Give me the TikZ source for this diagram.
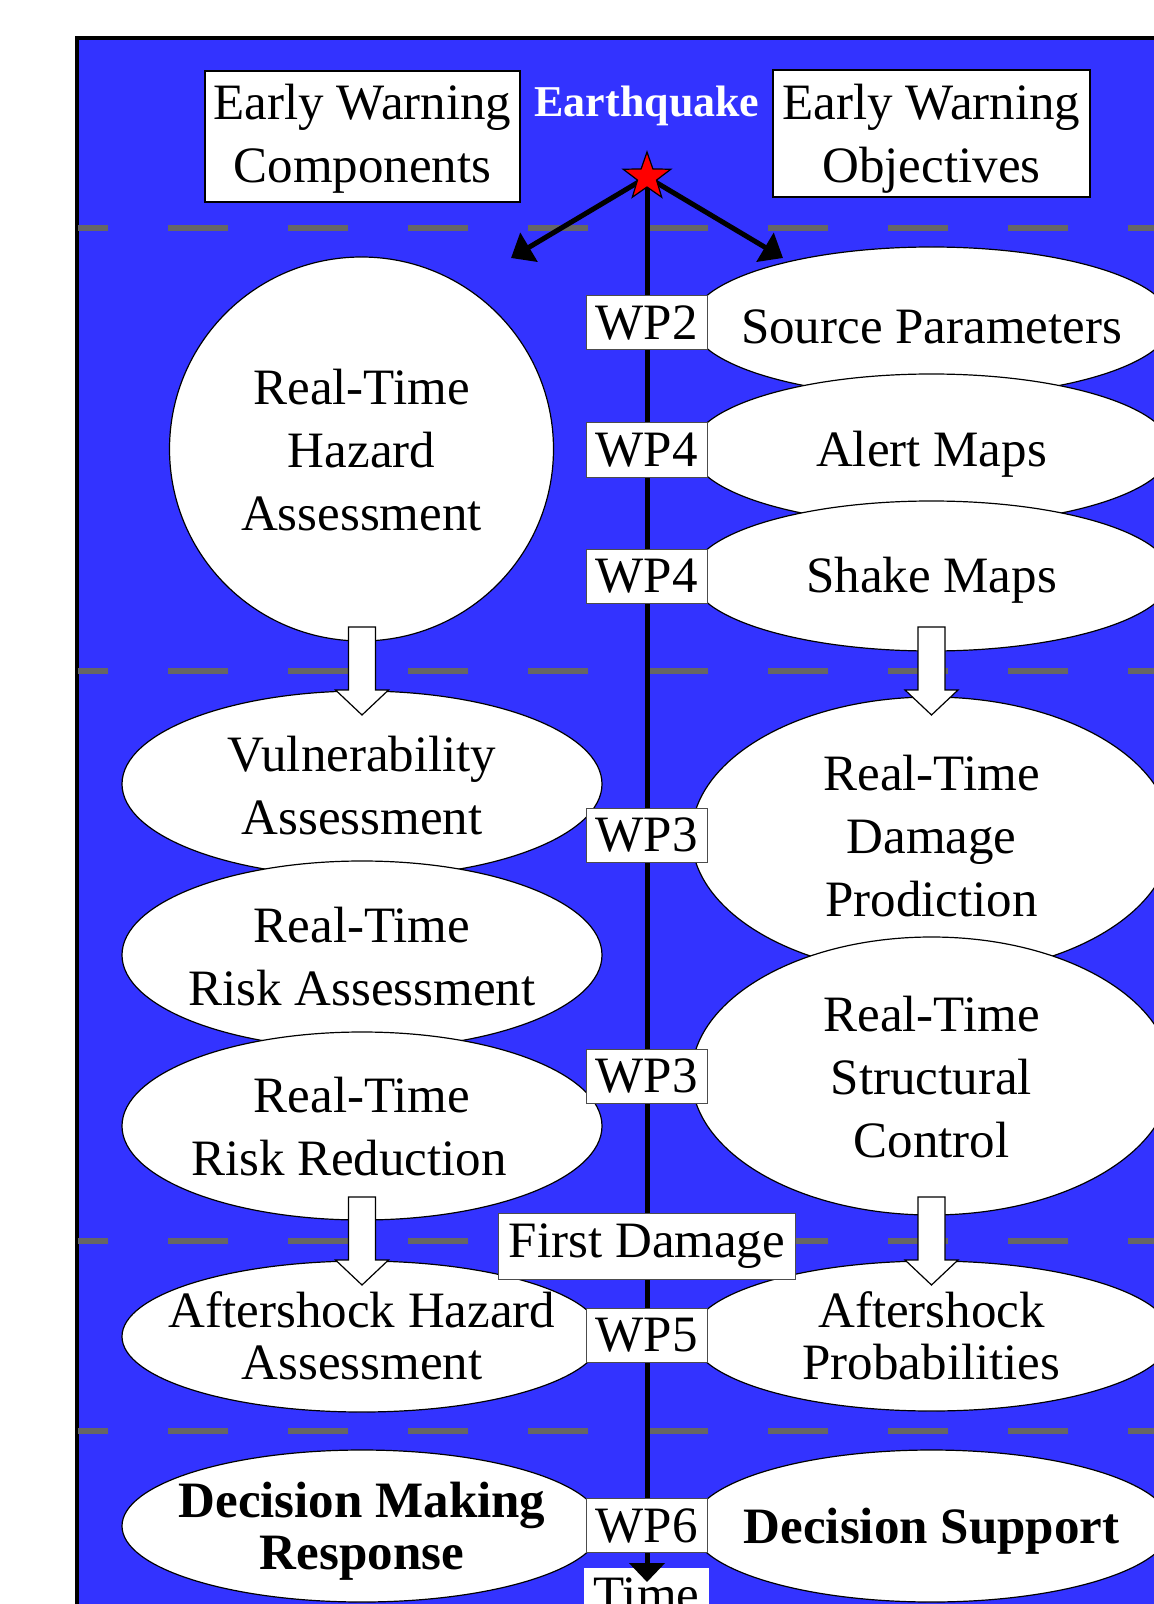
\documentclass[tikz,border=0pt]{standalone}
\usepackage{fontspec}
\setmainfont{Liberation Serif}
\usetikzlibrary{shapes.geometric,arrows.meta}
\definecolor{quakeblue}{RGB}{51,51,255}
\definecolor{sepgray}{RGB}{102,102,102}

\begin{document}
\begin{tikzpicture}[x=0.5pt, y=-0.5pt,
  font=\fontsize{25.5pt}{31.5pt}\selectfont,
  sepline/.style={sepgray, line width=3.3pt, dash pattern=on 30pt off 30pt, dash phase=15pt},
  titlebox/.style={draw, line width=0.75pt, fill=white, inner sep=0pt},
  bubble/.style={ellipse, draw, line width=0.6pt, fill=white, inner sep=0pt, minimum width=240pt},
  txt/.style={align=center, inner sep=0pt},
  tight/.style={txt, font=\fontsize{25.5pt}{25.8pt}\selectfont},
  tightbold/.style={txt, font=\fontsize{25.5pt}{25.8pt}\selectfont\bfseries},
  wpbox/.style={draw=black!70, line width=0.5pt, fill=white, inner xsep=4.75pt, inner ysep=0pt,
    minimum height=27pt},
  quakestar/.style={star, star points=5, star point ratio=2.5, draw, line width=0.6pt,
    fill=red, minimum size=25pt, inner sep=0pt},
  shot/.style={line width=2.5pt, -{Triangle[length=10.5pt,width=16.5pt]}},
  hollowarrow/.pic={\draw[fill=white, line width=0.6pt] (-13.5,0) -- (13.5,0) -- (13.5,63)
    -- (26.5,63) -- (0,88) -- (-26.5,63) -- (-13.5,63) -- cycle;}
]
\useasboundingbox (0,0) rectangle (1154,1604);
\clip (0,0) rectangle (1154,1604);
\draw[line width=2pt, fill=quakeblue] (76.5,38) rectangle (1200,1650);

\draw[sepline] (78,228) -- (1154,228);
\draw[sepline] (78,671) -- (1154,671);
\draw[sepline] (78,1241) -- (1154,1241);
\draw[sepline] (78,1431) -- (1154,1431);

\node[titlebox, minimum width=157.5pt, minimum height=65.5pt] (components) at (362.5,136.5) {};
\node[txt] (componentstxt) at (362.5,138.5) {Early Warning\\Components};
\node[titlebox, minimum width=158.5pt, minimum height=63.5pt] (objectives) at (931.5,133.5) {};
\node[txt] (objectivestxt) at (931.5,138.5) {Early Warning\\Objectives};
\node[anchor=base, inner sep=0pt, text=white, font=\fontsize{22pt}{26pt}\selectfont\bfseries] (quake) at (647,116.7) {Earthquake};

\node[wpbox, draw=none] (time) at (646.5,1595) {Time};

\coordinate (epi) at (647,177);
\coordinate (tleft) at (511,258);
\coordinate (tright) at (783,258);
\coordinate (tend) at (647,1582);
\draw[shot] (epi) -- (tleft);
\draw[shot] (epi) -- (tright);
\draw[line width=2.5pt, -{Triangle[length=9.5pt,width=17.5pt]}] (epi) -- (tend);
\node[quakestar] (star) at (epi) {};

% components
\node[bubble, circle, minimum size=192pt] (hazard) at (361.5,449) {};
\node[txt] (hazardtxt) at (361.5,450) {Real-Time\\Hazard\\Assessment};
\node[bubble, minimum height=93pt] (vuln) at (362,784) {};
\node[txt] (vulntxt) at (362,786) {Vulnerability\\Assessment};
\node[bubble, minimum height=94pt] (riskass) at (362,955) {};
\node[txt] (riskasstxt) at (362,957) {Real-Time\\Risk Assessment};
\node[bubble, minimum height=94pt] (riskred) at (362,1126) {};
\node[txt] (riskredtxt) at (362,1127) {Real-Time\\Risk Reduction\hspace*{13pt}};
\node[bubble, minimum height=75.5pt] (ahazard) at (362,1336.5) {};
\node[tight] (ahazardtxt) at (362,1336) {Aftershock Hazard\\Assessment};
\node[bubble, minimum height=76pt] (decmake) at (362,1526) {};
\node[tightbold] (decmaketxt) at (362,1531.5) {Decision Making\\Response};

% objectives
\node[bubble, minimum height=75pt] (source) at (931.5,322) {};
\node[txt] (sourcetxt) at (931.5,327) {Source Parameters};
\node[bubble, minimum height=75.5pt] (alert) at (931.5,449.5) {};
\node[txt] (alerttxt) at (931.5,454.7) {Alert Maps};
\node[bubble, minimum height=75pt] (shake) at (931.5,576) {};
\node[txt] (shaketxt) at (931.5,580.7) {Shake Maps};
\node[bubble, minimum height=139pt] (damage) at (931.5,836) {};
\node[txt] (damagetxt) at (931.5,836.5) {Real-Time\\Damage\\Prodiction};
\node[bubble, minimum height=139pt] (structural) at (931.5,1076) {};
\node[txt] (structuraltxt) at (931.5,1077) {Real-Time\\Structural\\Control};
\node[bubble, minimum height=75pt] (aprob) at (931.5,1336) {};
\node[tight] (aprobtxt) at (931.5,1335.5) {Aftershock\\Probabilities};
\node[bubble, minimum height=76pt] (decsup) at (931.5,1526) {};
\node[txt, font=\fontsize{25.5pt}{31.5pt}\selectfont\bfseries] (decsuptxt) at (931.5,1531) {Decision Support};

\pic (arrowa) at (362,627) {hollowarrow};
\pic (arrowb) at (931.5,627) {hollowarrow};
\pic (arrowc) at (362,1197) {hollowarrow};
\pic (arrowd) at (931.5,1197) {hollowarrow};

\node[wpbox] (wptwo) at (646.5,323) {WP2};
\node[wpbox] (wpfoura) at (646.5,450) {WP4};
\node[wpbox] (wpfourb) at (646.5,576) {WP4};
\node[wpbox] (wpthreea) at (646.5,835) {WP3};
\node[wpbox] (wpthreeb) at (646.5,1076) {WP3};
\node[wpbox, minimum height=33pt, inner xsep=5pt] (firstdmg) at (647,1246) {First Damage};
\node[wpbox] (wpfive) at (646.5,1335.5) {WP5};
\node[wpbox] (wpsix) at (646.5,1525.5) {WP6};
\end{tikzpicture}
\end{document}
